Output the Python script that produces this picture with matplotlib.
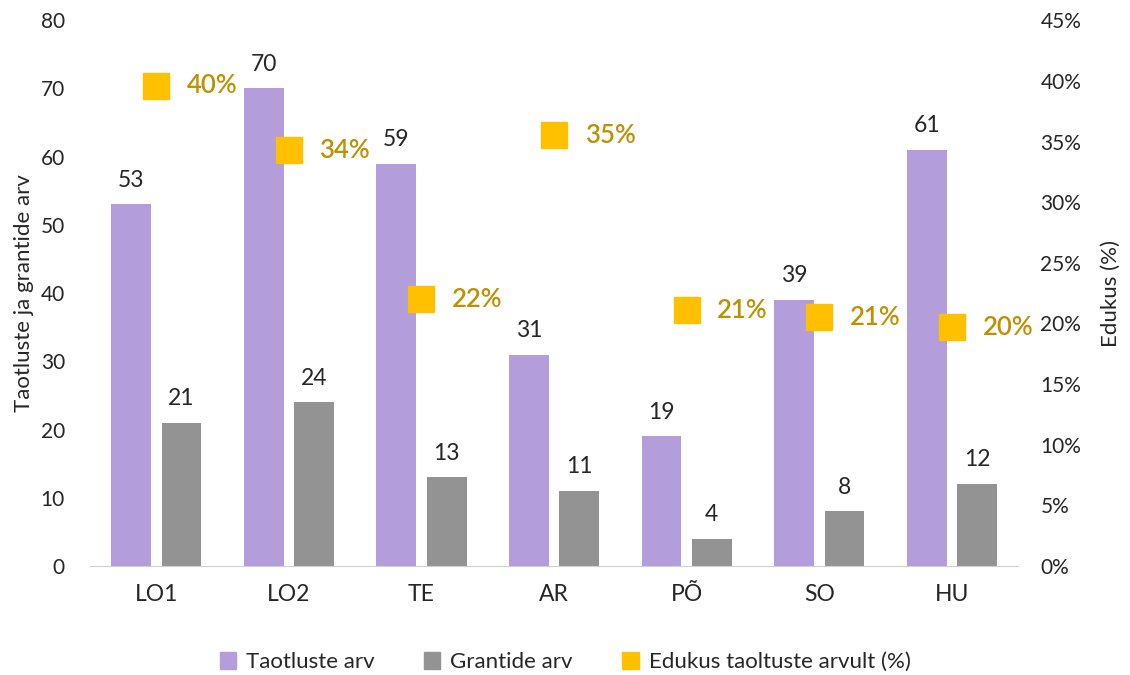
import matplotlib
matplotlib.use("Agg")
import matplotlib.pyplot as plt
import numpy as np
from matplotlib.patches import Patch

plt.rcParams['font.family'] = ['Lato', 'DejaVu Sans']

categories = ["LO1", "LO2", "TE", "AR", "PÕ", "SO", "HU"]
taotlused = [53, 70, 59, 31, 19, 39, 61]
grandid = [21, 24, 13, 11, 4, 8, 12]
edukus = [39.6, 34.3, 22.0, 35.5, 21.1, 20.5, 19.7]
edukus_labels = ["40%", "34%", "22%", "35%", "21%", "21%", "20%"]

purple = "#B39DDB"
gray = "#939393"
yellow = "#FFC000"
gold = "#BF9000"
text_col = "#262626"

fig = plt.figure(figsize=(11.3, 6.75), dpi=100)
ax = fig.add_axes([0.0796, 0.1615, 0.8214, 0.8085])
ax2 = ax.twinx()

x = np.arange(len(categories))
w = 0.30
off = 0.19
ax.bar(x - off, taotlused, w, color=purple, zorder=2)
ax.bar(x + off, grandid, w, color=gray, zorder=2)
for xi, v in zip(x, taotlused):
    ax.text(xi - off, v + 2.0, str(v), ha="center", va="bottom", fontsize=16.5, color=text_col)
for xi, v in zip(x, grandid):
    ax.text(xi + off, v + 2.0, str(v), ha="center", va="bottom", fontsize=16.5, color=text_col)

ax.set_xlim(-0.5, len(categories) - 0.5)
ax.set_ylim(0, 80)
ax.set_yticks(range(0, 81, 10))
ax.set_xticks(x)
ax.set_xticklabels(categories, fontsize=16.5, color=text_col)
ax.tick_params(axis="y", labelsize=15, colors=text_col, length=0, pad=18)
ax.tick_params(axis="x", length=0, pad=13)
for s in ["top", "right", "left"]:
    ax.spines[s].set_visible(False)
ax.spines["bottom"].set_color("#D0D0D0")
ax.set_ylabel("Taotluste ja grantide arv", fontsize=16, color=text_col, labelpad=5)

ax2.plot(x, edukus, linestyle="none", marker="s", markersize=19, color=yellow, zorder=3)
for xi, v, lab in zip(x, edukus, edukus_labels):
    ax2.annotate(lab, (xi, v), xytext=(22, 0), textcoords="offset points",
                 ha="left", va="center", fontsize=18.5, color=gold, fontweight="semibold")
ax2.set_ylim(0, 45)
ax2.set_yticks(range(0, 46, 5))
ax2.set_yticklabels([f"{t}%" for t in range(0, 46, 5)])
ax2.tick_params(axis="y", labelsize=15, colors=text_col, length=0, pad=16)
for s in ["top", "right", "left", "bottom"]:
    ax2.spines[s].set_visible(False)
ax2.set_ylabel("Edukus (%)", fontsize=16, color=text_col, labelpad=14)

handles = [Patch(color=purple, label="Taotluste arv"),
           Patch(color=gray, label="Grantide arv"),
           Patch(color=yellow, label="Edukus taoltuste arvult (%)")]
fig.legend(handles=handles, loc="center", bbox_to_anchor=(0.50, 0.019), ncol=3, frameon=False,
           fontsize=16, handlelength=0.75, handleheight=0.75, handletextpad=0.45, columnspacing=2.2,
           labelcolor=text_col)

fig.savefig("out.png", dpi=100)
